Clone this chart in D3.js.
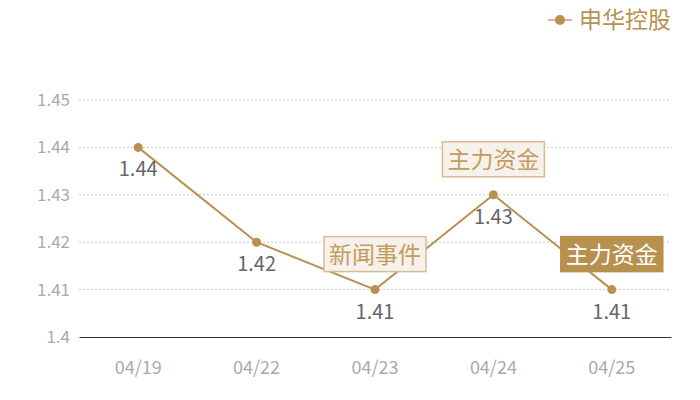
<!DOCTYPE html>
<html>
<head>
<meta charset="utf-8">
<script src="https://cdn.jsdelivr.net/npm/d3@7"></script>
<style>
  body { margin: 0; background: #fff; }
  text { font-family: "Noto Sans CJK SC", "Noto Sans", sans-serif; }
</style>
</head>
<body>
<div id="chart"></div>
<script>
const dates = ['04/19', '04/22', '04/23', '04/24', '04/25'];
const prices = [1.44, 1.42, 1.41, 1.43, 1.41];
const events = ['', '', '新闻事件', '主力资金', '主力资金'];
const yTicks = [1.4, 1.41, 1.42, 1.43, 1.44, 1.45];
const seriesName = '申华控股';
const activeEvent = 4;

const width = 700, height = 400;
const margin = {top: 100, right: 29, bottom: 63, left: 79};
const gold = '#b8914f';

const svg = d3.select('#chart').append('svg')
  .attr('width', width)
  .attr('height', height);

const x = d3.scaleBand()
  .domain(dates)
  .range([margin.left, width - margin.right]);

const y = d3.scaleLinear()
  .domain([1.4, 1.45])
  .range([height - margin.bottom, margin.top]);

// grid
svg.append('g')
  .selectAll('line')
  .data(yTicks.filter(d => d > 1.4))
  .join('line')
    .attr('x1', margin.left)
    .attr('x2', width - margin.right)
    .attr('y1', d => y(d))
    .attr('y2', d => y(d))
    .attr('stroke', '#c8c8c8')
    .attr('stroke-dasharray', '2,2');

// y labels
const yAxis = svg.append('g')
  .attr('transform', 'translate(' + margin.left + ',0)')
  .call(d3.axisLeft(y).tickValues(yTicks).tickSize(0).tickPadding(9)
    .tickFormat(d => d3.format('')(+d.toFixed(2))));
yAxis.select('.domain').remove();
yAxis.selectAll('text')
  .attr('fill', '#aaa')
  .attr('font-size', 17);

// x axis
const xAxis = svg.append('g')
  .attr('transform', 'translate(0,' + (height - margin.bottom) + ')')
  .call(d3.axisBottom(x).tickSize(0).tickPadding(24));
xAxis.select('.domain').attr('stroke', '#333').attr('stroke-width', 1.2);
xAxis.selectAll('text')
  .attr('fill', '#aaa')
  .attr('font-size', 18);

const cx = (d, i) => x(dates[i]) + x.bandwidth() / 2;

// line
const line = d3.line()
  .x((d, i) => cx(d, i))
  .y(d => y(d));

svg.append('path')
  .datum(prices)
  .attr('fill', 'none')
  .attr('stroke', gold)
  .attr('stroke-width', 2)
  .attr('d', line);

svg.append('g')
  .selectAll('circle')
  .data(prices)
  .join('circle')
    .attr('cx', cx)
    .attr('cy', d => y(d))
    .attr('r', 4.5)
    .attr('fill', gold);

// value labels
svg.append('g')
  .selectAll('text')
  .data(prices)
  .join('text')
    .attr('x', cx)
    .attr('y', d => y(d) + 29)
    .attr('text-anchor', 'middle')
    .attr('font-size', 20)
    .attr('fill', '#666')
    .text(d => d.toFixed(2));

// event boxes
const boxes = svg.append('g')
  .selectAll('g')
  .data(prices.map((p, i) => ({p, i, label: events[i]})).filter(d => d.label))
  .join('g')
    .attr('transform', d => 'translate(' + cx(d.p, d.i) + ',' + (y(d.p) - 35) + ')');

boxes.append('rect')
  .attr('x', -51)
  .attr('y', -18)
  .attr('width', 102)
  .attr('height', 35)
  .attr('fill', d => d.i === activeEvent ? gold : '#f6f1ea')
  .attr('stroke', d => d.i === activeEvent ? gold : '#d6bc92')
  .attr('stroke-width', 1.5);

boxes.append('text')
  .attr('text-anchor', 'middle')
  .attr('dy', '0.36em')
  .attr('font-size', 23)
  .attr('fill', d => d.i === activeEvent ? '#fff' : '#c39c5f')
  .text(d => d.label);

// legend
const legend = svg.append('g').attr('transform', 'translate(548,20)');
legend.append('line')
  .attr('x1', 0).attr('x2', 24)
  .attr('stroke', '#d3b98c').attr('stroke-width', 2);
legend.append('circle')
  .attr('cx', 12).attr('r', 5)
  .attr('fill', gold);
legend.append('text')
  .attr('x', 31)
  .attr('dy', '0.36em')
  .attr('font-size', 23)
  .attr('fill', gold)
  .text(seriesName);
</script>
</body>
</html>
